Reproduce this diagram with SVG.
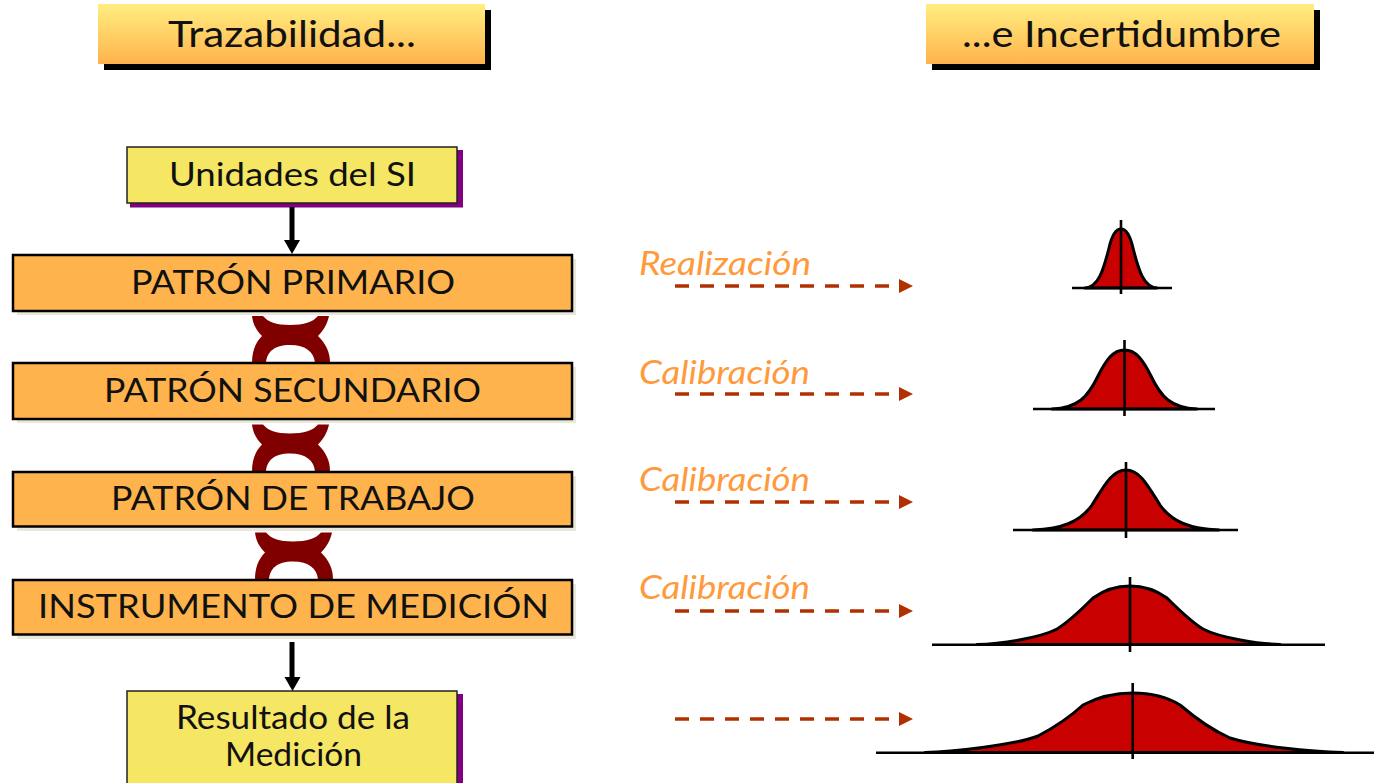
<svg xmlns="http://www.w3.org/2000/svg" width="1374" height="783" viewBox="0 0 1374 783">
<style>
text{font-family:"Lato","Open Sans",sans-serif;fill:#111;font-size:33px}
.title{font-size:36px}
.lab{font-style:italic;fill:#ff9a3c;font-size:32px}
.yb{fill:#f5e663;stroke:#222;stroke-width:1.5}
.ob{fill:#ffb34d;stroke:#000;stroke-width:2.5}
.ts{fill:#000}.ps{fill:#800080}.gs{fill:#e9e7da}
.bell{fill:#c80000;stroke:#000;stroke-width:3;stroke-linejoin:round}
.ax{stroke:#000;stroke-width:2.6;fill:none}
.da{stroke:#b03000;stroke-width:3.5;stroke-dasharray:14 11;fill:none}
.dh{fill:#b03000}
.arr{stroke:#000;stroke-width:5;fill:none}
.link{fill:#800000}
</style>
<defs>
<linearGradient id="g" x1="0" y1="0" x2="0" y2="1"><stop offset="0" stop-color="#ffee80"/><stop offset="1" stop-color="#ffb34d"/></linearGradient>
<path id="lk" class="link" d="M252,316 L263,316 C268,322 276,325 290,325 C304,325 313,322 318,316 L329,316 C327,325 323,331 318,336 C326,344 330,352 330,363 L315,363 C314,352 306,345 290,345 C274,345 267,352 266,363 L252,363 C252,352 255,343 262,336 C257,331 253,325 252,316 Z"/>
</defs>

<g id="chains">
<use href="#lk"/>
<use href="#lk" y="108.500"/>
<use href="#lk" x="3" y="216.500"/>
</g>

<g id="title-trazabilidad">
<rect class="ts" x="104" y="10" width="387" height="60"/>
<rect x="98" y="4" width="387" height="60" fill="url(#g)"/>
<text class="title" x="168" y="47" textLength="248" lengthAdjust="spacingAndGlyphs">Trazabilidad...</text>
</g>
<g id="title-incertidumbre">
<rect class="ts" x="932" y="10" width="388" height="60"/>
<rect x="926" y="4" width="388" height="60" fill="url(#g)"/>
<text class="title" x="962" y="47" textLength="319" lengthAdjust="spacingAndGlyphs">...e Incertidumbre</text>
</g>

<g id="node-unidades">
<rect class="ps" x="130" y="150" width="333" height="57.500"/>
<rect class="yb" x="127" y="147" width="330" height="56"/>
<text x="169" y="186" textLength="247" lengthAdjust="spacingAndGlyphs">Unidades del SI</text>
</g>
<g id="node-primario">
<rect class="gs" x="17" y="259" width="559" height="56"/>
<rect class="ob" x="13" y="255" width="559" height="56"/>
<text x="131" y="294" textLength="324" lengthAdjust="spacingAndGlyphs">PATRÓN PRIMARIO</text>
</g>
<g id="node-secundario">
<rect class="gs" x="17" y="367" width="559" height="56"/>
<rect class="ob" x="13" y="363" width="559" height="56"/>
<text x="104" y="402" textLength="377" lengthAdjust="spacingAndGlyphs">PATRÓN SECUNDARIO</text>
</g>
<g id="node-trabajo">
<rect class="gs" x="17" y="476" width="559" height="55"/>
<rect class="ob" x="13" y="472" width="559" height="54.500"/>
<text x="111" y="510" textLength="364" lengthAdjust="spacingAndGlyphs">PATRÓN DE TRABAJO</text>
</g>
<g id="node-instrumento">
<rect class="gs" x="17" y="584" width="559" height="55"/>
<rect class="ob" x="13" y="580" width="559" height="54.500"/>
<text x="38" y="618" textLength="511" lengthAdjust="spacingAndGlyphs">INSTRUMENTO DE MEDICIÓN</text>
</g>
<g id="node-resultado">
<rect class="ps" x="130" y="694" width="333" height="95"/>
<rect class="yb" x="127" y="691" width="330" height="95"/>
<text x="176" y="729" textLength="234" lengthAdjust="spacingAndGlyphs">Resultado de la</text>
<text x="225" y="766" textLength="137" lengthAdjust="spacingAndGlyphs">Medición</text>
</g>

<g id="connectors">
<path class="arr" d="M292,207 V241"/><path d="M284,240 H300 L292,254 Z"/>
<path class="arr" d="M292,642 V678"/><path d="M284.500,677 H300.500 L292.500,691 Z"/>
<path class="da" d="M675,286 H893"/><path class="dh" d="M899,279 L913,286 L899,293 Z"/>
<path class="da" d="M675,394 H893"/><path class="dh" d="M899,387 L913,394 L899,401 Z"/>
<path class="da" d="M675,502 H893"/><path class="dh" d="M899,495 L913,502 L899,509 Z"/>
<path class="da" d="M675,611 H893"/><path class="dh" d="M899,604 L913,611 L899,618 Z"/>
<path class="da" d="M675,719 H893"/><path class="dh" d="M899,712 L913,719 L899,726 Z"/>
</g>

<g id="label-realizacion"><text class="lab" x="639" y="275" textLength="172" lengthAdjust="spacingAndGlyphs">Realización</text></g>
<g id="label-calibracion-1"><text class="lab" x="639" y="384" textLength="171" lengthAdjust="spacingAndGlyphs">Calibración</text></g>
<g id="label-calibracion-2"><text class="lab" x="639" y="491" textLength="171" lengthAdjust="spacingAndGlyphs">Calibración</text></g>
<g id="label-calibracion-3"><text class="lab" x="639" y="599" textLength="171" lengthAdjust="spacingAndGlyphs">Calibración</text></g>

<g id="bell-1">
<path class="bell" d="M1085,288 C1098,287 1103,272 1109,248 C1112,235 1116,229 1121,229 C1126,229 1130,235 1133,248 C1139,272 1144,287 1157,288 Z"/>
<path class="ax" d="M1072,288 H1172 M1121,220 V294"/>
</g>
<g id="bell-2">
<path class="bell" d="M1052,409 C1078,408 1088,397 1098,376 C1106,360 1113,350 1124.500,350 C1136,350 1143,360 1151,376 C1161,397 1171,408 1197,409 Z"/>
<path class="ax" d="M1033,409 H1215 M1124.500,340 V416"/>
</g>
<g id="bell-3">
<path class="bell" d="M1033,530 C1062,529 1080,522 1092,505 C1104,486 1112,470 1126,470 C1140,470 1148,486 1160,505 C1172,522 1190,529 1219,530 Z"/>
<path class="ax" d="M1013,530 H1238 M1126,462 V538"/>
</g>
<g id="bell-4">
<path class="bell" d="M977,644.500 C1000,644 1040,638 1057,629 C1070,621 1082,609 1093,598 C1104,590 1116,586 1130,586 C1144,586 1156,590 1167,598 C1178,609 1190,621 1203,629 C1220,638 1260,644 1280,644.500 Z"/>
<path class="ax" d="M932,644.700 H1325 M1130,577 V652"/>
</g>
<g id="bell-5">
<path class="bell" d="M925,752.500 C950,752 1015,745 1038,736 C1055,727 1070,717 1083,705 C1098,697 1115,693 1132.700,693 C1150,693 1167,697 1180,705 C1194,717 1212,730 1230,738 C1255,746 1310,752 1343,752.500 Z"/>
<path class="ax" d="M876,752.700 H1374 M1132.700,683 V759"/>
</g>
</svg>
